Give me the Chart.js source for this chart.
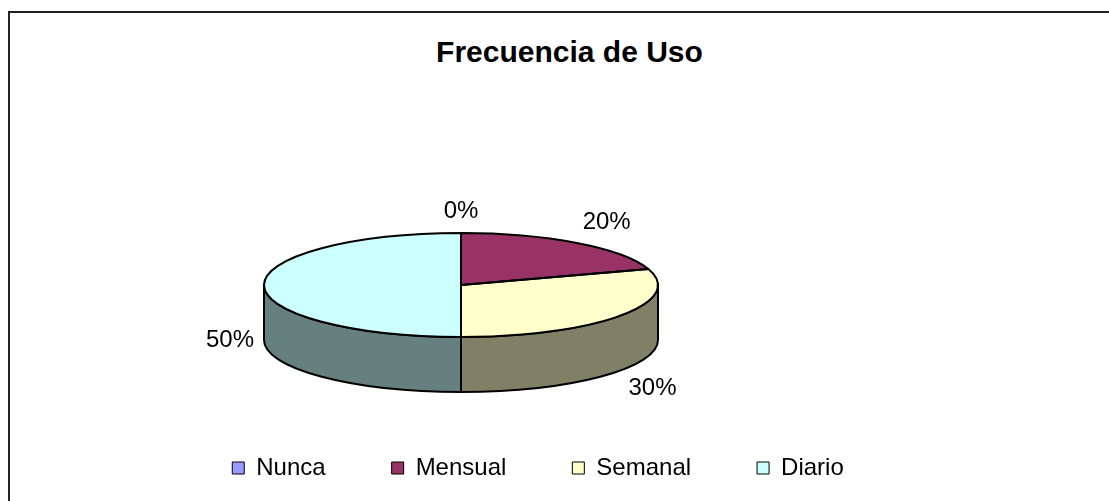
<!DOCTYPE html>
<html>
<head>
<meta charset="utf-8">
<script src="https://cdn.jsdelivr.net/npm/chart.js@4/dist/chart.umd.min.js"></script>
<style>
    html, body { margin: 0; padding: 0; background: #fff; overflow: hidden; }
    #marco { position: absolute; left: 8px; top: 11px; width: 1200px; height: 600px; border-top: 2px solid #222; border-left: 2px solid #222; }
    #titulo { position: absolute; left: 0; top: 37px; width: 1139px; text-align: center; font: bold 30px Arial, "Liberation Sans", sans-serif; line-height: 30px; color: #000; }
    #grafico { position: absolute; left: 0; top: 0; }
</style>
</head>
<body>
<div id="marco"></div>
<div id="titulo">Frecuencia de Uso</div>
<canvas id="grafico" width="1076" height="501"></canvas>
<script>
    // datos del grafico
    var categorias = ["Nunca", "Mensual", "Semanal", "Diario"];
    var porcentajes = [0, 20, 30, 50];
    var coloresCara = ["#9999FF", "#993366", "#FFFFCC", "#CCFFFF"];
    var coloresLado = ["#4D4D80", "#4D1A33", "#808066", "#668080"];

    // elipse de la tarta en pantalla
    var CX = 461, CY = 285, RX = 197, RY = 52, FONDO = 55;

    var tarta3d = {
        id: "tarta3d",
        beforeDatasetsDraw: function (chart) {
            var ctx = chart.ctx;
            var arcs = chart.getDatasetMeta(0).data;

            //paredes laterales (solo la mitad de delante)
            ctx.save();
            ctx.lineWidth = 2;
            ctx.strokeStyle = "#000";
            ctx.lineJoin = "round";
            arcs.forEach(function (arc, i) {
                var a = Math.max(arc.startAngle, 0);
                var b = Math.min(arc.endAngle, Math.PI);
                if (b <= a) return;
                ctx.beginPath();
                ctx.ellipse(CX, CY, RX, RY, 0, a, b);
                ctx.ellipse(CX, CY + FONDO, RX, RY, 0, b, a, true);
                ctx.closePath();
                ctx.fillStyle = coloresLado[i];
                ctx.fill();
                ctx.stroke();
            });
            ctx.restore();

            //aplastar la tarta de chart.js
            var ref = arcs[0];
            ctx.save();
            ctx.translate(CX, CY);
            ctx.scale(RX / ref.outerRadius, RY / ref.outerRadius);
            ctx.translate(-ref.x, -ref.y);
        },
        afterDatasetsDraw: function (chart) {
            var ctx = chart.ctx;
            var arcs = chart.getDatasetMeta(0).data;
            ctx.restore();

            ctx.save();
            ctx.lineWidth = 2;
            ctx.strokeStyle = "#000";
            ctx.lineJoin = "round";
            arcs.forEach(function (arc) {
                if (arc.endAngle - arc.startAngle <= 0) return;
                ctx.beginPath();
                ctx.moveTo(CX, CY);
                ctx.ellipse(CX, CY, RX, RY, 0, arc.startAngle, arc.endAngle);
                ctx.closePath();
                ctx.stroke();
            });

            //etiquetas de porcentaje
            ctx.font = "24px Arial, 'Liberation Sans', sans-serif";
            ctx.fillStyle = "#000";
            arcs.forEach(function (arc, i) {
                var m = (arc.startAngle + arc.endAngle) / 2;
                var c = Math.cos(m), s = Math.sin(m);
                var x = CX + RX * c + 10 * c;
                var y = CY + RY * s + (s > -0.01 ? FONDO : 0) + 10 * s;
                ctx.textAlign = c > 0.1 ? "left" : (c < -0.1 ? "right" : "center");
                ctx.textBaseline = s < -0.1 ? "bottom" : (s > 0.1 ? "top" : "middle");
                ctx.fillText(porcentajes[i] + "%", x, y);
            });
            ctx.restore();
        }
    };

    new Chart(document.getElementById("grafico"), {
        type: "pie",
        data: {
            labels: categorias,
            datasets: [
                {
                    data: porcentajes,
                    backgroundColor: coloresCara,
                    borderColor: "#000",
                    borderWidth: 1
                }
            ]
        },
        options: {
            responsive: false,
            animation: false,
            events: [],
            layout: { padding: { bottom: 11 } },
            plugins: {
                title: { display: false },
                tooltip: { enabled: false },
                legend: {
                    position: "bottom",
                    labels: {
                        color: "#000",
                        font: { family: "Arial", size: 24 },
                        boxWidth: 12,
                        boxHeight: 12,
                        padding: 66
                    }
                }
            }
        },
        plugins: [tarta3d]
    });
</script>
</body>
</html>
